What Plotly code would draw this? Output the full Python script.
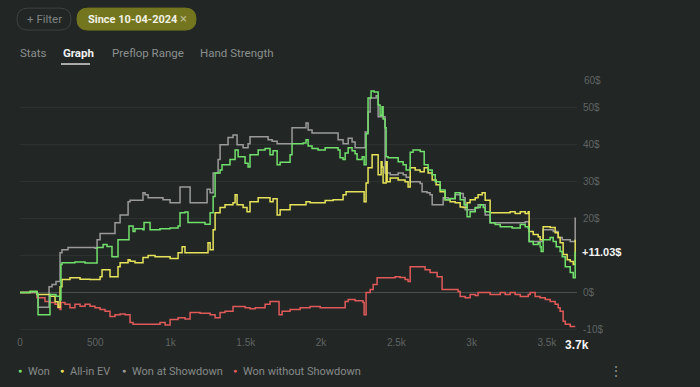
import plotly.graph_objects as go

# ---------------- data (hand number, cumulative $) ----------------
won = [(0,0),(66,0.3),(113,-0.5),(120,-6),(199,-0.5),(239,-1),(266,-2),(272,7.6),(279,8.1),(365,8.3),
       (432,8),(512,12.2),(552,13),(578,12.5),(611,9.7),(651,14.3),(724,18),(751,16.5),(764,17.3),(817,17),
       (824,19),(864,17),(930,17.3),(997,17.5),(1050,18),(1063,21.6),(1096,21.8),(1116,19),(1196,19),(1229,18.5),
       (1263,21.6),(1283,26),(1296,32.4),(1329,33.2),(1342,34.6),(1395,36),(1429,38.6),(1449,36.8),(1495,35),(1515,34),
       (1528,37.3),(1582,38.6),(1628,39),(1661,37.3),(1681,38.4),(1708,34.6),(1728,35.3),(1794,37.3),(1807,40.3),(1881,40.5),
       (1900,41.4),(1914,39.7),(1940,39),(1980,38.6),(2027,39.2),(2113,38.6),(2126,36.5),(2146,36),(2160,37.8),(2180,39.2),
       (2206,38.4),(2226,37.6),(2239,36),(2273,36.8),(2286,34.6),(2299,43),(2312,52.7),(2332,54.6),(2352,54.3),(2379,50.8),
       (2392,48),(2405,50.3),(2412,47),(2425,44.6),(2432,36.8),(2445,36.5),(2512,35.4),(2545,34.6),(2565,33.2),(2592,38),
       (2611,38.6),(2658,38.2),(2685,34.6),(2711,33.2),(2738,31.9),(2758,30),(2791,27.8),(2824,25.1),(2857,25.5),(2891,27),
       (2924,25.1),(2950,23.8),(2970,20.5),(2990,21.9),(3024,23),(3057,23.8),(3077,23),(3090,21.9),(3123,18.9),(3156,18.4),
       (3190,17.8),(3269,17.5),(3323,18.4),(3356,17.8),(3376,17.4),(3382,13.8),(3409,13),(3442,13.5),(3455,12.4),(3462,11.1),
       (3475,14.3),(3522,14.9),(3542,13.8),(3562,12.4),(3588,11.1),(3602,9.7),(3622,7),(3655,5.4),(3675,4),(3688,11.03)]

allin_ev = [(0,0),(66,0.3),(113,-0.5),(199,-1),(233,-2.5),(253,-4),(266,1.6),(279,3.5),(332,4),(399,3.6),
            (465,3.5),(532,4.3),(545,6.2),(598,4.3),(651,7),(665,8.1),(718,8.9),(731,8.5),(764,8.1),(817,9.5),
            (851,10),(897,9.7),(997,9.2),(1050,10.8),(1077,12.4),(1096,10.8),(1249,13.5),(1263,11.6),(1283,17),(1296,21.6),
            (1329,23),(1362,23.8),(1415,24.3),(1429,26.5),(1442,23.8),(1482,23),(1508,21.9),(1528,24.6),(1582,25.7),(1661,24.6),
            (1681,25.4),(1708,21),(1728,22.4),(1794,23.8),(1900,24.6),(1927,24.3),(2027,24.9),(2080,25.1),(2146,26.5),(2166,27.3),
            (2286,24.6),(2299,29.7),(2312,33.8),(2339,37.3),(2379,31.9),(2399,35.4),(2405,34),(2412,29.7),(2432,35.4),(2439,30),
            (2459,31),(2512,30.5),(2558,30),(2578,28.6),(2592,33.8),(2625,33.2),(2658,32.7),(2685,33.8),(2711,32.4),(2738,30.5),
            (2764,29.2),(2791,27.3),(2824,25.1),(2857,24.6),(2891,24.3),(2924,23.2),(2944,23),(2970,24.3),(2990,25.1),(3024,25.7),
            (3043,26.5),(3070,27),(3090,25),(3123,21.6),(3256,21.9),(3289,21.4),(3323,21.9),(3356,21.4),(3376,21.9),(3382,16.5),
            (3409,15.7),(3442,15.1),(3455,14.3),(3475,17.8),(3522,17.6),(3555,16.2),(3575,14.9),(3588,13.5),(3608,10.3),(3635,8.9),
            (3655,8.4),(3675,7.6),(3688,14.3)]

won_showdown = [(0,0),(113,-0.3),(120,-4),(193,1.6),(213,2.2),(239,3),(266,10.8),(279,11.6),(319,12.2),(498,12),
                (512,14.3),(532,16),(631,18.9),(665,21),(718,24.6),(731,25),(817,27),(831,26.5),(851,25.7),(950,25.1),
                (997,24.3),(1063,28.6),(1130,24.3),(1243,28),(1263,27),(1283,32.4),(1316,36),(1329,40),(1382,42),(1415,42.7),
                (1442,40),(1482,39.2),(1515,40.3),(1528,42.2),(1648,41.4),(1675,41),(1708,40.3),(1807,44.6),(1900,45.9),(1914,44),
                (1940,43.2),(2113,41.4),(2146,40.3),(2180,41.8),(2206,40.8),(2226,39.2),(2293,43.5),(2312,48.9),(2326,52.7),(2366,53.3),
                (2379,47.6),(2425,32.4),(2459,31.9),(2512,32.4),(2545,31.9),(2565,31.2),(2592,30),(2658,29.5),(2671,27.3),(2704,27),
                (2724,26.5),(2738,23.8),(2811,25.7),(2844,25.4),(2891,26.5),(2924,26.8),(2944,25.7),(2957,22.4),(3024,22.9),(3043,23.8),
                (3090,21),(3123,18.9),(3356,19.2),(3382,13.8),(3475,17),(3542,16.5),(3575,14.9),(3602,14.3),(3655,13.8),(3688,20.3)]

won_no_showdown = [(0,0),(113,-1.4),(166,-2.4),(199,-2.7),(233,-3.2),(253,-4.1),(266,-4.6),(272,-2.7),(299,-3.2),(332,-4.1),
                   (365,-3.2),(399,-3.7),(432,-3.2),(465,-3.7),(498,-4.1),(532,-4.6),(565,-5.1),(598,-6.5),(631,-6),(665,-5.8),
                   (698,-6),(731,-8.1),(751,-8.6),(930,-8.1),(964,-8.8),(997,-7.3),(1050,-6.8),(1096,-7.2),(1130,-5.4),(1196,-5.6),
                   (1263,-6),(1296,-6.8),(1329,-5.4),(1362,-5.1),(1415,-3.8),(1495,-4.1),(1528,-4.4),(1562,-4.1),(1628,-3.2),(1661,-2.4),
                   (1721,-6),(1741,-5.1),(1794,-4.6),(1861,-4.1),(1927,-3.8),(1994,-4.1),(2060,-4.1),(2160,-2.4),(2180,-1.9),(2226,-2.2),
                   (2279,-2.7),(2286,-6),(2299,0),(2326,0.8),(2346,2.2),(2372,4),(2492,4.3),(2525,4.1),(2558,3.5),(2578,3),
                   (2592,7),(2658,7),(2691,6.2),(2724,5.4),(2771,4.3),(2804,0.8),(2857,0.8),(2910,0.3),(2924,-1.1),(2957,-1.4),
                   (2990,-0.5),(3024,-0.8),(3043,0),(3090,0),(3123,-0.5),(3190,0),(3223,-0.5),(3256,0),(3289,-0.5),(3323,-1.1),
                   (3376,-0.5),(3389,0),(3422,-1.1),(3455,-1.4),(3489,-1.9),(3522,-2.4),(3555,-3.2),(3575,-4.1),(3588,-5.1),(3608,-7.8),
                   (3622,-8.6),(3655,-9.2),(3688,-9.2)]

series_names = ["Won", "All-in EV", "Won at Showdown", "Won without Showdown"]
x_tickvals = [0, 500, 1000, 1500, 2000, 2500, 3000, 3500]
x_ticktext = ["0", "500", "1k", "1.5k", "2k", "2.5k", "3k", "3.5k"]
y_tickvals = [-10, 0, 10, 20, 30, 40, 50]
y_ticktext = ["-10$", "0$", "", "20$", "30$", "40$", "50$"]
total_hands = 3700
final_won = 11.03

# ---------------- layout geometry ----------------
W, H = 700, 387
L, R, T, B = 20, 123, 71, 51.5
PW = W - L - R
PH = H - T - B

def fx(px):
    return (px - L) / PW

def fy(py):
    return (H - B - py) / PH

BG = "#222625"
colors = {"Won": "#72e06c", "All-in EV": "#e6e35a",
          "Won at Showdown": "#9a9a9a", "Won without Showdown": "#e05a5a"}

fig = go.Figure()
data_map = {"Won": won, "All-in EV": allin_ev,
            "Won at Showdown": won_showdown, "Won without Showdown": won_no_showdown}

for name in ["Won without Showdown", "Won at Showdown", "All-in EV", "Won"]:
    pts = data_map[name]
    fig.add_trace(go.Scatter(
        x=[p[0] for p in pts], y=[p[1] for p in pts], mode="lines",
        line=dict(color=colors[name], width=1.5, shape="hv"),
        name=name, showlegend=False, hoverinfo="skip"))

def pill(x0, y0, x1, y1):
    r = (y1 - y0) / 2
    pts = [
        ("M", x0 + r, y0), ("L", x1 - r, y0), ("Q", x1, y0, x1, y0 + r),
        ("Q", x1, y1, x1 - r, y1), ("L", x0 + r, y1), ("Q", x0, y1, x0, y0 + r),
        ("Q", x0, y0, x0 + r, y0)]
    s = ""
    for p in pts:
        coords = p[1:]
        parts = [f"{fx(coords[i]):.5f},{fy(coords[i+1]):.5f}" for i in range(0, len(coords), 2)]
        s += p[0] + " " + " ".join(parts) + " "
    return s + "Z"

shapes = [
    dict(type="path", xref="paper", yref="paper", path=pill(17, 8, 71, 30),
         line=dict(color="#3d4241", width=1), fillcolor=BG, layer="above"),
    dict(type="path", xref="paper", yref="paper", path=pill(77, 8, 196, 30),
         line=dict(color="#74761f", width=1), fillcolor="#74761f", layer="above"),
    dict(type="line", xref="paper", yref="paper", x0=fx(61), x1=fx(90), y0=fy(64), y1=fy(64),
         line=dict(color="#d8d8d8", width=1.5)),
]

font = "Roboto, Noto Sans, sans-serif"
ann = []
def text(px, py, s, size=11, color="#8b8f8e", anchor="left", weight="normal"):
    ann.append(dict(x=fx(px), y=fy(py), xref="paper", yref="paper", text=s, showarrow=False,
                    xanchor=anchor, yanchor="middle",
                    font=dict(family=font, size=size, color=color, weight=weight)))

text(44, 19, "+ Filter", 11.5, "#7f8483", "center")
text(86, 19, "Since 10-04-2024", 11, "#f2f2e6", "left", "bold")
text(183, 18.5, "×", 13, "#b9ba8a", "center")
text(18, 53, "Stats", 11.5, "#8b8f8e")
text(61, 53, "Graph", 11.5, "#f0f0f0", "left", "bold")
text(110, 53, "Preflop Range", 11.5, "#8b8f8e")
text(198, 53, "Hand Strength", 11.5, "#8b8f8e")
text(616, 372, "⋮", 14, "#8b8f8e", "center")

# legend (dot + label)
legend_pos = [(20, 27), (62, 69), (124, 131), (235, 242)]
for name, (dx, tx) in zip(series_names, legend_pos):
    text(dx, 372, "●", 7, colors[name], "center")
    text(tx - 1, 372, name, 11, "#868a89", "left")

# 60$ label (drawn at top of the price scale)
ann.append(dict(x=1, y=60, xref="paper", yref="y", yshift=-9, text="60$", showarrow=False,
                xanchor="left", xshift=5, yanchor="middle",
                font=dict(family="Liberation Sans, Arial", size=10, color="#5f6463")))
# current value badge
ann.append(dict(x=1, y=final_won, xref="paper", yref="y", text=f"+{final_won:.2f}$", showarrow=False,
                xanchor="left", xshift=3, yanchor="middle", bgcolor=BG,
                font=dict(family="Liberation Sans, Arial", size=11, color="#f4f4f4", weight="bold")))
# last hand label on x axis
ann.append(dict(x=total_hands, y=fy(346), xref="x", yref="paper", text=f"{total_hands/1000:.1f}k",
                showarrow=False, xanchor="center", yanchor="middle",
                font=dict(family="Liberation Sans, Arial", size=12, color="#f4f4f4", weight="bold")))

fig.update_layout(
    width=W, height=H,
    margin=dict(l=L, r=R, t=T, b=B, autoexpand=False),
    paper_bgcolor=BG, plot_bgcolor=BG,
    font=dict(family=font, color="#8b8f8e"),
    shapes=shapes, annotations=ann,
    showlegend=False,
    xaxis=dict(range=[0, total_hands], tickvals=x_tickvals, ticktext=x_ticktext,
               showgrid=False, zeroline=False, showline=False, ticks="",
               tickfont=dict(family="Liberation Sans, Arial", size=10, color="#5f6463"),
               fixedrange=True, automargin=False),
    yaxis=dict(range=[-11.5, 60], side="right", tickvals=y_tickvals, ticktext=y_ticktext,
               showgrid=True, gridcolor="#2d3231", gridwidth=1,
               zeroline=True, zerolinecolor="#4b504f", zerolinewidth=1,
               showline=False, ticks="", ticklabelstandoff=5,
               tickfont=dict(family="Liberation Sans, Arial", size=10, color="#5f6463"),
               fixedrange=True, automargin=False),
)

fig.write_html("out.html", config={"displayModeBar": False},
               post_script="document.body.style.margin='0';document.body.style.background='#222625';")
